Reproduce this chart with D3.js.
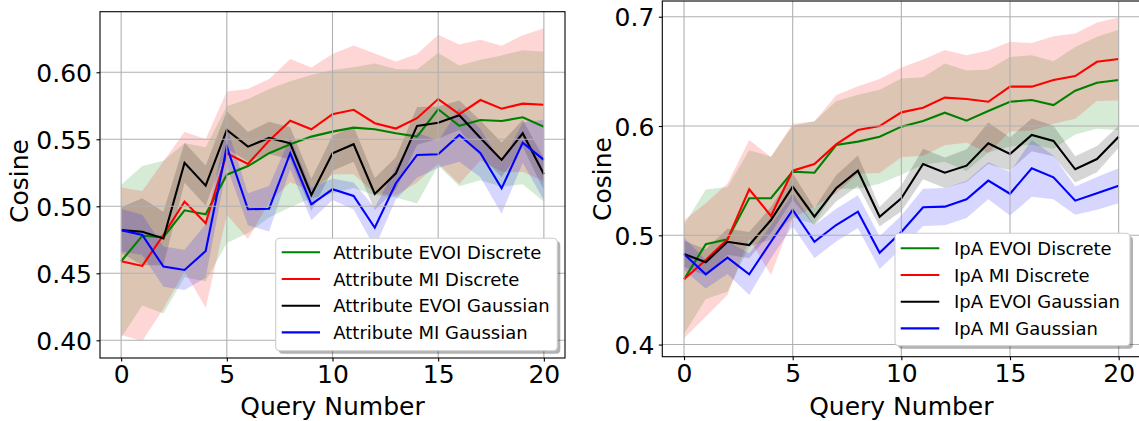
<!DOCTYPE html>
<html>
<head>
<meta charset="utf-8">
<script src="https://cdn.jsdelivr.net/npm/d3@7"></script>
<style>
  html, body { margin: 0; padding: 0; background: #ffffff; }
  svg { display: block; font-family: "DejaVu Sans", sans-serif; }
</style>
</head>
<body>
<svg id="chart" width="1139" height="421"></svg>
<script>
// Query index shared by every series
const queryNumbers = [0,1,2,3,4,5,6,7,8,9,10,11,12,13,14,15,16,17,18,19,20];
const xTicks = [0, 5, 10, 15, 20];

// ---- Attribute panel: mean cosine and standard deviation ----
const attrEvoiDiscrete    = [0.459,0.478,0.477,0.497,0.494,0.5236,0.530,0.5396,0.5463,0.552,0.5557,0.5587,0.5575,0.5545,0.552,0.5724,0.560,0.5644,0.5636,0.5664,0.5594];
const attrEvoiDiscreteSd  = [0.057,0.052,0.057,0.050,0.050,0.051,0.050,0.048,0.047,0.046,0.046,0.045,0.049,0.048,0.050,0.042,0.045,0.045,0.049,0.050,0.056];
const attrMiDiscrete      = [0.459,0.4555,0.4786,0.5035,0.4873,0.5396,0.5316,0.549,0.5639,0.5575,0.5687,0.572,0.562,0.558,0.5657,0.580,0.5687,0.5793,0.5728,0.5766,0.5758];
const attrMiDiscreteSd    = [0.055,0.056,0.055,0.052,0.063,0.046,0.056,0.046,0.046,0.046,0.045,0.048,0.052,0.050,0.048,0.048,0.052,0.045,0.047,0.051,0.057];
const attrEvoiGaussian    = [0.4822,0.481,0.476,0.5325,0.5154,0.557,0.5445,0.551,0.547,0.5085,0.5396,0.5463,0.5092,0.5246,0.560,0.5624,0.568,0.551,0.5346,0.5545,0.5239];
const attrEvoiGaussianSd  = [0.017,0.025,0.020,0.015,0.015,0.014,0.011,0.012,0.012,0.012,0.013,0.013,0.012,0.012,0.014,0.012,0.011,0.013,0.013,0.010,0.012];
const attrMiGaussian      = [0.4822,0.4786,0.455,0.4525,0.4666,0.5445,0.4978,0.4982,0.5396,0.5015,0.5127,0.5077,0.484,0.5172,0.5383,0.5388,0.5532,0.5396,0.5134,0.5475,0.5346];
const attrMiGaussianSd    = [0.016,0.015,0.015,0.015,0.020,0.015,0.012,0.017,0.012,0.012,0.008,0.010,0.015,0.012,0.017,0.010,0.020,0.018,0.019,0.015,0.030];
const attrYTicks = [0.40, 0.45, 0.50, 0.55, 0.60];
const attrLabels = ["Attribute EVOI Discrete", "Attribute MI Discrete", "Attribute EVOI Gaussian", "Attribute MI Gaussian"];

// ---- IpA panel: mean cosine and standard deviation ----
const ipaEvoiDiscrete     = [0.4597,0.4918,0.4963,0.5339,0.5339,0.5582,0.5573,0.5826,0.5857,0.5902,0.5994,0.6046,0.6122,0.6049,0.6137,0.6222,0.6238,0.6192,0.6323,0.6396,0.6421];
const ipaEvoiDiscreteSd   = [0.050,0.050,0.048,0.044,0.038,0.042,0.047,0.040,0.043,0.043,0.044,0.040,0.045,0.046,0.038,0.041,0.041,0.040,0.040,0.042,0.046];
const ipaMiDiscrete       = [0.4597,0.4774,0.4963,0.5421,0.5177,0.5591,0.5652,0.5832,0.5963,0.600,0.6125,0.6168,0.626,0.6247,0.6222,0.636,0.636,0.6421,0.6457,0.6588,0.6613];
const ipaMiDiscreteSd     = [0.054,0.052,0.051,0.045,0.054,0.043,0.039,0.045,0.040,0.043,0.041,0.044,0.0435,0.040,0.047,0.041,0.040,0.040,0.039,0.036,0.038];
const ipaEvoiGaussian     = [0.4829,0.4753,0.4941,0.4911,0.514,0.5445,0.517,0.543,0.5591,0.517,0.5339,0.5652,0.5573,0.5637,0.5842,0.5744,0.5918,0.5863,0.5604,0.5698,0.5902];
const ipaEvoiGaussianSd   = [0.012,0.012,0.012,0.012,0.012,0.012,0.008,0.012,0.014,0.009,0.012,0.014,0.014,0.015,0.019,0.015,0.015,0.014,0.012,0.012,0.010];
const ipaMiGaussian       = [0.4829,0.4643,0.4795,0.4643,0.4941,0.5232,0.4941,0.5094,0.5216,0.4841,0.503,0.5256,0.5262,0.5329,0.550,0.538,0.5613,0.553,0.5317,0.5384,0.5454];
const ipaMiGaussianSd     = [0.015,0.013,0.015,0.019,0.015,0.015,0.015,0.015,0.015,0.015,0.015,0.017,0.017,0.017,0.017,0.020,0.026,0.020,0.013,0.015,0.016];
const ipaYTicks = [0.4, 0.5, 0.6, 0.7];
const ipaLabels = ["IpA EVOI Discrete", "IpA MI Discrete", "IpA EVOI Gaussian", "IpA MI Gaussian"];

const seriesColors = ["#008000", "#ff0000", "#000000", "#0000ff"];

const svg = d3.select("#chart");

function drawPanel(p) {
  const x = d3.scaleLinear().domain([-1, 21]).range([p.left, p.right]);
  const y = d3.scaleLinear().domain(p.yDomain).range([p.bottom, p.top]);
  const g = svg.append("g");

  const clipId = "clip-" + p.id;
  svg.append("clipPath").attr("id", clipId)
    .append("rect").attr("x", p.left).attr("y", p.top)
    .attr("width", p.right - p.left).attr("height", p.bottom - p.top);
  const plot = g.append("g").attr("clip-path", `url(#${clipId})`);

  const series = p.means.map((m, i) => ({
    color: seriesColors[i],
    rows: queryNumbers.map((q, k) => ({ q, m: m[k], s: p.sds[i][k] }))
  }));

  // shaded ±1 standard deviation bands
  const band = d3.area()
    .x(d => x(d.q)).y0(d => y(d.m - d.s)).y1(d => y(d.m + d.s));
  series.forEach(s => {
    plot.append("path").datum(s.rows)
      .attr("d", band).attr("fill", s.color).attr("fill-opacity", 0.16);
  });

  // grid
  const grid = g.append("g").attr("stroke", "#b0b0b0").attr("stroke-width", 1.1);
  xTicks.forEach(t => grid.append("line")
    .attr("x1", x(t)).attr("x2", x(t)).attr("y1", p.top).attr("y2", p.bottom));
  p.yTicks.forEach(t => grid.append("line")
    .attr("x1", p.left).attr("x2", p.right).attr("y1", y(t)).attr("y2", y(t)));

  // mean lines
  const line = d3.line().x(d => x(d.q)).y(d => y(d.m));
  series.forEach(s => {
    plot.append("path").datum(s.rows)
      .attr("d", line).attr("fill", "none")
      .attr("stroke", s.color).attr("stroke-width", 2.1)
      .attr("stroke-linejoin", "miter");
  });

  // axes
  const xAxis = d3.axisBottom(x).tickValues(xTicks).tickSize(3.5).tickPadding(4.5)
    .tickFormat(d3.format("d"));
  const yAxis = d3.axisLeft(y).tickValues(p.yTicks).tickSize(3.5).tickPadding(4.5)
    .tickFormat(d3.format(p.yFormat));
  const gx = g.append("g").attr("transform", `translate(0,${p.bottom})`).call(xAxis);
  const gy = g.append("g").attr("transform", `translate(${p.left},0)`).call(yAxis);
  [gx, gy].forEach(a => {
    a.select(".domain").remove();
    a.selectAll(".tick line").attr("stroke", "#000").attr("stroke-width", 1.1);
    a.selectAll(".tick text").attr("font-size", 25).attr("fill", "#000")
      .attr("font-family", "DejaVu Sans");
  });
  gx.selectAll(".tick text").attr("dy", null).attr("y", 25.3);
  gy.selectAll(".tick text").attr("dy", null).attr("y", 9.1);

  // frame
  g.append("rect").attr("x", p.left).attr("y", p.top)
    .attr("width", p.right - p.left).attr("height", p.bottom - p.top)
    .attr("fill", "none").attr("stroke", "#000").attr("stroke-width", 1.1);

  // axis titles
  g.append("text").attr("x", (p.left + p.right) / 2).attr("y", 415)
    .attr("text-anchor", "middle").attr("font-size", 25).text("Query Number");
  g.append("text")
    .attr("transform", `translate(${p.yLabelX},${p.yLabelY}) rotate(-90)`)
    .attr("text-anchor", "middle").attr("font-size", 25).text("Cosine");

  // legend
  const L = p.legend;
  const lg = g.append("g");
  lg.append("rect").attr("x", L.x + 3).attr("y", L.y + 3)
    .attr("width", L.w).attr("height", L.h).attr("rx", 4)
    .attr("fill", "#000").attr("fill-opacity", 0.3);
  lg.append("rect").attr("x", L.x).attr("y", L.y)
    .attr("width", L.w).attr("height", L.h).attr("rx", 4)
    .attr("fill", "#fff").attr("stroke", "#cccccc").attr("stroke-width", 1.1);
  p.labels.forEach((lab, i) => {
    const yy = L.row0 + i * L.rowStep;
    lg.append("line").attr("x1", L.hx0).attr("x2", L.hx1).attr("y1", yy).attr("y2", yy)
      .attr("stroke", seriesColors[i]).attr("stroke-width", 2.1);
    lg.append("text").attr("x", L.tx).attr("y", yy + 6.6)
      .attr("font-size", 18).attr("fill", "#000").text(lab);
  });
}

drawPanel({
  id: "attr",
  left: 100, right: 565, top: 11.7, bottom: 358,
  yDomain: [0.3868, 0.6452], yTicks: attrYTicks, yFormat: ".2f",
  means: [attrEvoiDiscrete, attrMiDiscrete, attrEvoiGaussian, attrMiGaussian],
  sds: [attrEvoiDiscreteSd, attrMiDiscreteSd, attrEvoiGaussianSd, attrMiGaussianSd],
  labels: attrLabels,
  yLabelX: 28.3, yLabelY: 181,
  legend: { x: 275.7, y: 238.3, w: 281.6, h: 112.4, hx0: 281.7, hx1: 320, tx: 333.3, row0: 252.3, rowStep: 26.7 }
});

drawPanel({
  id: "ipa",
  left: 662.3, right: 1140.4, top: 1, bottom: 356.7,
  yDomain: [0.3889, 0.7144], yTicks: ipaYTicks, yFormat: ".1f",
  means: [ipaEvoiDiscrete, ipaMiDiscrete, ipaEvoiGaussian, ipaMiGaussian],
  sds: [ipaEvoiDiscreteSd, ipaMiDiscreteSd, ipaEvoiGaussianSd, ipaMiGaussianSd],
  labels: ipaLabels,
  yLabelX: 611, yLabelY: 179,
  legend: { x: 895, y: 233.3, w: 235, h: 112.4, hx0: 900.7, hx1: 939.3, tx: 954, row0: 248.3, rowStep: 26.7 }
});
</script>
</body>
</html>
